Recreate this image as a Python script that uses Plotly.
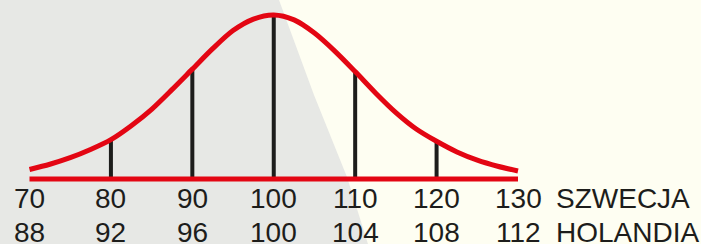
import plotly.graph_objects as go

# Data
curve_x = [70, 72.5, 75, 77.5, 80, 82.5, 85, 87.5, 90, 92.5, 95, 97.5, 100,
           102.5, 105, 107.5, 110, 112.5, 115, 117.5, 120, 122.5, 125, 127.5, 130]
curve_y = [5.8, 9, 13, 18, 24, 32.5, 42.5, 54.5, 67, 79.5, 90.5, 97.5, 100,
           97, 89, 78, 65.5, 52.5, 40.5, 30.5, 23, 16.5, 11.5, 7.8, 4.9]
marker_x = [80, 90, 100, 110, 120]
marker_y = [24, 67, 100, 65.5, 23]
sweden_ticks = ["70", "80", "90", "100", "110", "120", "130"]
holland_ticks = ["88", "92", "96", "100", "104", "108", "112"]
tick_pos = [70, 80, 90, 100, 110, 120, 130]
row_names = ["SZWECJA", "HOLANDIA"]

W, H = 701, 244
RED = "#E30613"
BLACK = "#1D1D1B"
GREY = "#E7E8E5"
CREAM = "#FEFEF2"

fig = go.Figure()

# vertical black lines
for xv, yv in zip(marker_x, marker_y):
    fig.add_trace(go.Scatter(x=[xv, xv], y=[0, yv], mode="lines",
                             line=dict(color=BLACK, width=4), hoverinfo="skip",
                             showlegend=False))

# baseline
fig.add_trace(go.Scatter(x=[tick_pos[0], tick_pos[-1]], y=[0, 0], mode="lines",
                         line=dict(color=RED, width=5), showlegend=False))
# curve
fig.add_trace(go.Scatter(x=curve_x, y=curve_y, mode="lines",
                         line=dict(color=RED, width=5, shape="spline", smoothing=0.8),
                         showlegend=False))

# background: cream full, grey polygon on left
def P(px, py):
    return f"{px / W:.5f},{1 - py / H:.5f}"

grey_path = ("M " + P(0, 0) + " L " + P(279, 0) + " L " + P(314, 95)
             + " L " + P(347, 177) + " L " + P(368, 244) + " L " + P(0, 244) + " Z")
fig.add_shape(type="path", xref="paper", yref="paper", path=grey_path,
              fillcolor=GREY, line=dict(width=0), layer="below")

font = dict(family="Liberation Sans, Arial, sans-serif", size=28, color=BLACK)
row1_y = 1 - 198 / H
row2_y = 1 - 232 / H
for xv, t1, t2 in zip(tick_pos, sweden_ticks, holland_ticks):
    fig.add_annotation(x=xv, y=row1_y, xref="x", yref="paper", text=t1, showarrow=False,
                       xanchor="center", yanchor="middle", font=font)
    fig.add_annotation(x=xv, y=row2_y, xref="x", yref="paper", text=t2, showarrow=False,
                       xanchor="center", yanchor="middle", font=font)
for name, yy in zip(row_names, [row1_y, row2_y]):
    fig.add_annotation(x=554 / W, y=yy, xref="paper", yref="paper", text=name,
                       showarrow=False, xanchor="left", yanchor="middle", font=font)

ppu_x = (518 - 29.5) / 60.0
x0 = 70 - 29.5 / ppu_x
x1 = x0 + W / ppu_x
ppu_y = (179 - 15) / 100.0
y0 = 0 - (H - 179) / ppu_y
y1 = 100 + 15 / ppu_y

fig.update_layout(
    width=W, height=H, margin=dict(l=0, r=0, t=0, b=0),
    paper_bgcolor=CREAM, plot_bgcolor="rgba(0,0,0,0)",
    xaxis=dict(range=[x0, x1], visible=False, fixedrange=True),
    yaxis=dict(range=[y0, y1], visible=False, fixedrange=True),
    showlegend=False,
)

fig.write_html("out.html", config={"displayModeBar": False},
               post_script="document.body.style.margin='0';document.body.style.padding='0';")
